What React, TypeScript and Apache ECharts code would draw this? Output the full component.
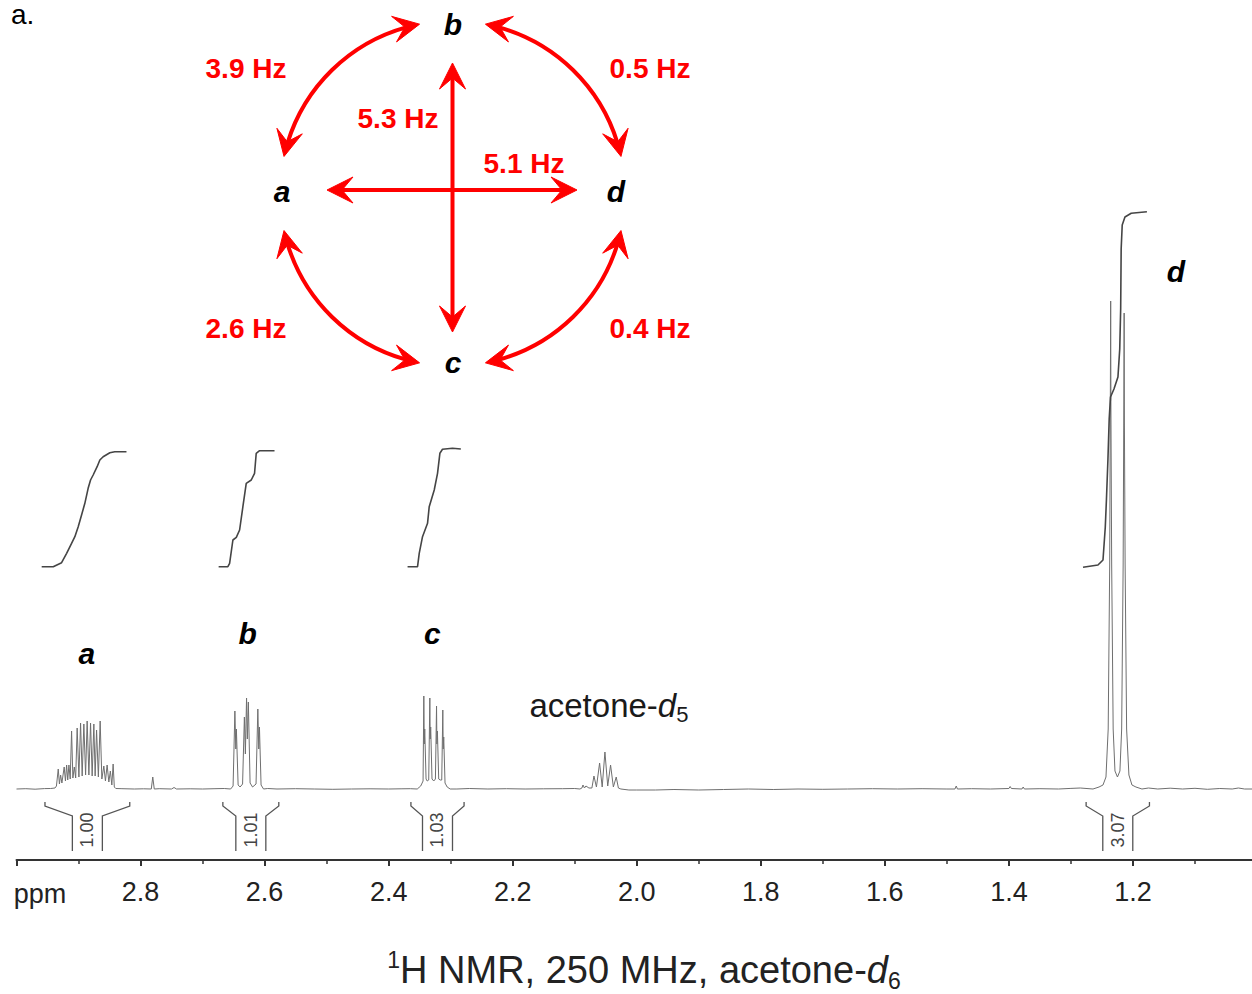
import React, { useEffect, useRef } from "react";
import * as echarts from "echarts";

const FONT = '"Liberation Sans", Arial, Helvetica, sans-serif';
const RED = "#ff0000";

// x-axis tick labels (ppm)
const xTickLabels = ["2.8", "2.6", "2.4", "2.2", "2.0", "1.8", "1.6", "1.4", "1.2"];

// spectrum: [ppm, intensity above baseline]
const baselinePts: [number, number][] = [
  [3.0, 0], [2.985, 0.3], [2.97, -0.2], [2.955, 0.4], [2.945, 0.5],
  [2.83, 0.3], [2.81, 0], [2.795, 0.2], [2.7827, 0], [2.7803, 12], [2.7779, 0],
  [2.77, 0.3], [2.75, 0], [2.746, 1.5], [2.742, 0], [2.72, 0.2], [2.7, 0], [2.68, 0.3], [2.665, 0.5],
  [2.595, 0.5], [2.58, 0], [2.55, 0.3], [2.52, 0], [2.49, -0.3], [2.46, 0], [2.43, 0.2], [2.4, 0], [2.38, 0.2], [2.365, 0.3],
  [2.29, 0], [2.27, 0.5], [2.24, 0], [2.21, 0.3], [2.18, 0], [2.15, 0.2], [2.12, 0.3], [2.1, 0.5],
  [2.0, -1], [1.97, -1], [1.94, -0.5], [1.9, -1], [1.86, -0.5], [1.82, 0], [1.78, -0.5], [1.74, 0], [1.7, -0.3],
  [1.66, 0], [1.62, 0.3], [1.58, 0], [1.54, 0.3], [1.5, 0],
  [1.487, 0], [1.4849, 3], [1.483, 0], [1.46, 0.3], [1.43, 0], [1.4, 0.5], [1.398, 2.5], [1.396, 0.5],
  [1.379, 0], [1.377, 2], [1.375, 0], [1.35, 0.3], [1.32, 0], [1.3, 0.6], [1.285, 1],
  [1.175, 1], [1.16, 0], [1.14, 0.8], [1.12, 0], [1.1, 0.7], [1.08, -0.3], [1.06, 0.5], [1.04, 0], [1.03, 1], [1.02, 0], [1.0, 0],
];

const multipletA: [number, number][] = [
  [2.938, 1], [2.9356, 3], [2.9327, 20], [2.9308, 5], [2.9289, 14], [2.9268, 6], [2.9231, 22], [2.9211, 8],
  [2.9192, 24], [2.9174, 9], [2.9155, 24], [2.9134, 10], [2.9112, 58], [2.9091, 11], [2.9068, 22], [2.9046, 11],
  [2.9022, 61], [2.8994, 12], [2.8967, 66], [2.8941, 13], [2.8914, 65], [2.8886, 14], [2.8861, 68], [2.8833, 14],
  [2.8806, 66], [2.878, 13], [2.8753, 65], [2.8732, 13], [2.8709, 59], [2.868, 12], [2.8651, 68], [2.8624, 10],
  [2.8592, 23], [2.8566, 8], [2.8539, 24], [2.8511, 7], [2.8487, 18], [2.8463, 4], [2.8442, 25], [2.8423, 2], [2.8399, 0.5],
];

const multipletB: [number, number][] = [
  [2.6548, 0], [2.6508, 3], [2.6479, 78], [2.6464, 40], [2.6455, 60], [2.6427, 4], [2.6395, 2], [2.6355, 5],
  [2.6326, 72], [2.631, 35], [2.6291, 91], [2.6278, 50], [2.6262, 87], [2.6234, 6], [2.6194, 2], [2.6138, 5],
  [2.6109, 80], [2.6094, 40], [2.6083, 62], [2.6057, 4], [2.6017, 0],
];

const multipletC: [number, number][] = [
  [2.3539, 0], [2.3483, 3], [2.3445, 8], [2.3433, 93], [2.3426, 45], [2.3418, 60], [2.3397, 10], [2.3378, 8],
  [2.3354, 9], [2.3336, 91], [2.333, 50], [2.3322, 62], [2.3301, 10], [2.3273, 8], [2.3246, 10], [2.3228, 83],
  [2.3222, 45], [2.3214, 58], [2.3193, 10], [2.3169, 9], [2.3144, 9], [2.3127, 79], [2.312, 40], [2.3112, 52],
  [2.3091, 6], [2.3056, 2], [2.3008, 0],
];

const solventQuintet: [number, number][] = [
  [2.0916, 0], [2.0884, 1], [2.0867, 4], [2.0843, 1], [2.0819, 3], [2.0771, 1], [2.0723, 1], [2.069, 13],
  [2.065, 2], [2.0599, 26], [2.0557, 2], [2.0513, 37], [2.0468, 3], [2.0422, 24], [2.0377, 2], [2.0331, 12],
  [2.0296, 1], [2.0256, 0], [2.0127, -1],
];

const doubletD: [number, number][] = [
  [1.2644, 0], [1.2547, 2], [1.2483, 4], [1.2435, 12], [1.2399, 60], [1.2375, 224], [1.2364, 400], [1.2359, 488],
  [1.2355, 380], [1.2343, 224], [1.2319, 60], [1.229, 18], [1.225, 12], [1.221, 18], [1.2182, 60], [1.2158, 224],
  [1.2147, 390], [1.2142, 476], [1.2138, 370], [1.2126, 224], [1.2102, 60], [1.2065, 14], [1.2016, 4], [1.1952, 2], [1.1855, 0],
];

// integral curves: [ppm, height]
const integralA: [number, number][] = [
  [2.9594, 222.3], [2.9408, 222.3], [2.9273, 226.3], [2.9192, 235.7], [2.9112, 245.7], [2.9059, 252.3],
  [2.9005, 262.3], [2.8951, 274], [2.8898, 285.7], [2.8845, 300.7], [2.8806, 309], [2.8764, 314],
  [2.87, 322.3], [2.8656, 329], [2.8603, 332.3], [2.8495, 336.3], [2.8415, 337.3], [2.8227, 337.3],
];
const integralB: [number, number][] = [
  [2.6741, 222.3], [2.6592, 222.3], [2.6564, 225.7], [2.6511, 249], [2.6456, 251.7], [2.6403, 259],
  [2.635, 282.3], [2.6296, 305.7], [2.6215, 309], [2.6162, 315.7], [2.6135, 335.7], [2.6081, 338.3], [2.584, 338.3],
];
const integralC: [number, number][] = [
  [2.3695, 222.3], [2.3534, 222.3], [2.3507, 235.7], [2.3454, 252.3], [2.3373, 265.7], [2.3346, 282.3],
  [2.3265, 299], [2.3212, 315.7], [2.3174, 335.7], [2.3132, 339.7], [2.2971, 340.7], [2.2836, 340],
];
const integralD: [number, number][] = [
  [1.2805, 221.7], [1.2564, 224], [1.2483, 229], [1.2446, 262], [1.2427, 290], [1.2403, 330], [1.2383, 370],
  [1.2362, 392], [1.2306, 400], [1.2242, 412], [1.2213, 440], [1.2198, 480], [1.219, 540], [1.2173, 564],
  [1.2129, 572], [1.2028, 575.7], [1.1775, 577.3],
];

// integration regions: [from ppm, to ppm, integral value]
const integrationRegions: [number, number, number][] = [
  [2.9541, 2.8174, 1.0],
  [2.6673, 2.5771, 1.01],
  [2.3641, 2.2784, 1.03],
  [1.2755, 1.1734, 3.07],
];

// peak assignment labels: [ppm, height, label]
const peakLabels: [number, number, string][] = [
  [2.8866, 136, "a"],
  [2.6275, 156, "b"],
  [2.3297, 156, "c"],
  [1.1308, 518, "d"],
];
const solventLabel: [number, number] = [2.0449, 84];

const CX = 452.5, CY = 193.5, R = 172.5;

function headPoly(tx: number, ty: number, dx: number, dy: number) {
  const L = 26, W = 13, N = 15;
  const px = -dy, py = dx;
  return {
    type: "polygon",
    silent: true,
    shape: {
      points: [
        [tx, ty],
        [tx - dx * L + px * W, ty - dy * L + py * W],
        [tx - dx * N, ty - dy * N],
        [tx - dx * L - px * W, ty - dy * L - py * W],
      ],
    },
    style: { fill: RED, stroke: RED, lineWidth: 1 },
  };
}

function arcArrow(a1: number, a2: number) {
  const t1 = (a1 * Math.PI) / 180, t2 = (a2 * Math.PI) / 180;
  const p1 = [CX + R * Math.cos(t1), CY + R * Math.sin(t1)];
  const p2 = [CX + R * Math.cos(t2), CY + R * Math.sin(t2)];
  const d2 = [-Math.sin(t2), Math.cos(t2)];
  const d1 = [Math.sin(t1), -Math.cos(t1)];
  const s = 14 / R;
  return [
    {
      type: "arc",
      silent: true,
      shape: { cx: CX, cy: CY, r: R, startAngle: t1 + s, endAngle: t2 - s, clockwise: true },
      style: { stroke: RED, lineWidth: 4, fill: "none" },
    },
    headPoly(p1[0], p1[1], d1[0], d1[1]),
    headPoly(p2[0], p2[1], d2[0], d2[1]),
  ];
}

function txt(x: number, y: number, text: string, extra: any) {
  return {
    type: "text",
    x,
    y,
    silent: true,
    style: {
      text,
      fontFamily: FONT,
      align: "center",
      verticalAlign: "middle",
      textAlign: "center",
      textVerticalAlign: "middle",
      ...extra,
    },
  };
}

export default function App() {
  const ref = useRef<HTMLDivElement>(null);
  useEffect(() => {
    const chart = echarts.init(ref.current!, null, { renderer: "svg" });
    const spectrum = [
      ...baselinePts,
      ...multipletA,
      ...multipletB,
      ...multipletC,
      ...solventQuintet,
      ...doubletD,
    ].sort((p, q) => q[0] - p[0]);

    const letterStyle = { fontSize: 30, fontWeight: "bold", fontStyle: "italic", fill: "#000" };
    const redStyle = { fontSize: 28, fontWeight: "bold", fill: RED };

    const graphic: any[] = [
      ...arcArrow(192.4, 259),
      ...arcArrow(281, 347.6),
      ...arcArrow(12.4, 79),
      ...arcArrow(101, 167.6),
      { type: "line", silent: true, shape: { x1: 341, y1: 190, x2: 563, y2: 190 }, style: { stroke: RED, lineWidth: 4 } },
      headPoly(327, 190, -1, 0),
      headPoly(577, 190, 1, 0),
      { type: "line", silent: true, shape: { x1: CX, y1: 77, x2: CX, y2: 318 }, style: { stroke: RED, lineWidth: 4 } },
      headPoly(CX, 63, 0, -1),
      headPoly(CX, 332, 0, 1),
      txt(282, 191, "a", letterStyle),
      txt(616, 191, "d", letterStyle),
      txt(453, 24, "b", letterStyle),
      txt(453, 362, "c", letterStyle),
      txt(246, 68, "3.9 Hz", redStyle),
      txt(650, 68, "0.5 Hz", redStyle),
      txt(398, 118, "5.3 Hz", redStyle),
      txt(524, 163, "5.1 Hz", redStyle),
      txt(246, 328, "2.6 Hz", redStyle),
      txt(650, 328, "0.4 Hz", redStyle),
      txt(11, 14, "a.", { fontSize: 28, fill: "#000", align: "left", textAlign: "left" }),
      txt(40, 894, "ppm", { fontSize: 27, fill: "#222" }),
      txt(644, 970, "{sup|1}{n|H NMR, 250 MHz, acetone-}{it|d}{sub|6}", {
        rich: {
          n: { fontSize: 38, lineHeight: 44, fontFamily: FONT, fill: "#222" },
          it: { fontSize: 38, lineHeight: 44, fontFamily: FONT, fontStyle: "italic", fill: "#222" },
          sup: { fontSize: 23, lineHeight: 22, fontFamily: FONT, fill: "#222", verticalAlign: "top" },
          sub: { fontSize: 23, lineHeight: 22, fontFamily: FONT, fill: "#222", verticalAlign: "bottom" },
        },
      }),
    ];

    const option: any = {
      animation: false,
      grid: { left: 16.5, right: 0.7, top: 0, bottom: 134, containLabel: false },
      xAxis: {
        type: "value",
        min: 1.0,
        max: 3.0,
        inverse: true,
        interval: 0.2,
        splitLine: { show: false },
        axisLine: { onZero: false, lineStyle: { color: "#333", width: 2 } },
        axisTick: { show: true, length: 6, lineStyle: { color: "#333", width: 2 } },
        minorTick: { show: true, splitNumber: 2, length: 4, lineStyle: { color: "#333", width: 1.5 } },
        axisLabel: {
          fontSize: 27,
          color: "#222",
          fontFamily: FONT,
          margin: 18,
          formatter: (v: number) => {
            const s = v.toFixed(1);
            return xTickLabels.includes(s) ? s : "";
          },
        },
      },
      yAxis: { type: "value", min: -71, max: 789, show: false, splitLine: { show: false } },
      series: [
        {
          type: "line",
          data: spectrum,
          symbol: "none",
          silent: true,
          lineStyle: { color: "#6f6f6f", width: 1 },
          z: 3,
        },
        ...[integralA, integralB, integralC, integralD].map((d) => ({
          type: "line",
          data: d,
          symbol: "none",
          silent: true,
          lineStyle: { color: "#454545", width: 1.6 },
          z: 4,
        })),
        {
          type: "custom",
          silent: true,
          data: integrationRegions,
          z: 4,
          renderItem: (_p: any, api: any) => {
            const from = api.value(0), to = api.value(1), val = api.value(2);
            const p1 = api.coord([from, 0]);
            const p2 = api.coord([to, 0]);
            const y0 = p1[1];
            const xl = Math.min(p1[0], p2[0]), xr = Math.max(p1[0], p2[0]);
            const cx = (xl + xr) / 2, iw = 15;
            const st = { stroke: "#555", lineWidth: 1.3, fill: "none" };
            return {
              type: "group",
              children: [
                { type: "polyline", shape: { points: [[xl, y0 + 13], [xl, y0 + 17], [cx - iw, y0 + 27], [cx - iw, y0 + 62]] }, style: st },
                { type: "polyline", shape: { points: [[xr, y0 + 13], [xr, y0 + 17], [cx + iw, y0 + 27], [cx + iw, y0 + 62]] }, style: st },
                {
                  type: "text",
                  x: cx,
                  y: y0 + 41,
                  rotation: Math.PI / 2,
                  style: {
                    text: Number(val).toFixed(2),
                    fontSize: 18,
                    fontFamily: FONT,
                    fill: "#444",
                    align: "center",
                    verticalAlign: "middle",
                  },
                },
              ],
            };
          },
        },
        {
          type: "custom",
          silent: true,
          data: peakLabels,
          z: 5,
          renderItem: (params: any, api: any) => {
            const p = api.coord([api.value(0), api.value(1)]);
            return {
              type: "text",
              x: p[0],
              y: p[1],
              style: {
                text: peakLabels[params.dataIndex][2],
                fontSize: 30,
                fontWeight: "bold",
                fontStyle: "italic",
                fontFamily: FONT,
                fill: "#000",
                align: "center",
                verticalAlign: "middle",
              },
            };
          },
        },
        {
          type: "custom",
          silent: true,
          data: [solventLabel],
          z: 5,
          renderItem: (_p: any, api: any) => {
            const p = api.coord([api.value(0), api.value(1)]);
            return {
              type: "text",
              x: p[0],
              y: p[1],
              style: {
                text: "{n|acetone-}{it|d}{sub|5}",
                align: "center",
                verticalAlign: "middle",
                rich: {
                  n: { fontSize: 33, lineHeight: 40, fontFamily: FONT, fill: "#1a1a1a" },
                  it: { fontSize: 33, lineHeight: 40, fontFamily: FONT, fontStyle: "italic", fill: "#1a1a1a" },
                  sub: { fontSize: 22, lineHeight: 21, fontFamily: FONT, fill: "#1a1a1a", verticalAlign: "bottom" },
                },
              },
            };
          },
        },
      ],
      graphic,
    };
    chart.setOption(option);
    return () => chart.dispose();
  }, []);
  return (
    <div style={{ position: "absolute", left: 0, top: 0, width: 1252, height: 994, overflow: "hidden" }}>
      <div ref={ref} style={{ position: "absolute", left: 0, top: 0, width: 1260, height: 994 }} />
    </div>
  );
}
